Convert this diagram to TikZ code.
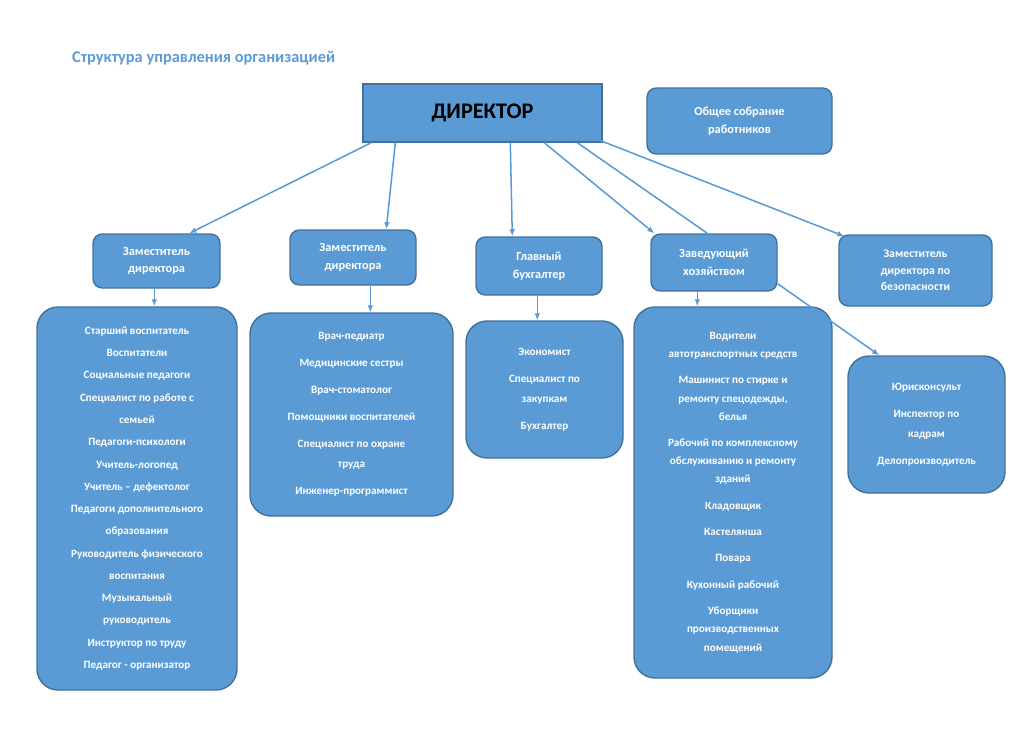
\documentclass[tikz,border=0pt]{standalone}
\usepackage{fontspec}
\setmainfont{Carlito}
\usetikzlibrary{calc, arrows.meta}
\definecolor{boxfill}{RGB}{91,155,213}
\definecolor{boxline}{RGB}{65,113,156}
\definecolor{titleblue}{RGB}{91,155,213}
\begin{document}
\begin{tikzpicture}[
    x=0.03cm, y=-0.03cm,
    box/.style={
        draw=boxline, fill=boxfill, line width=1.2pt, rounded corners=8pt,
        text=white, font=\bfseries\fontsize{10.5}{15}\selectfont, align=center, inner sep=2pt
    },
    head/.style={
        box, draw=boxline, rounded corners=0pt, text=black, font=\bfseries\fontsize{19}{22}\selectfont
    },
    list/.style={
        box, rounded corners=18pt, font=\bfseries\fontsize{9.5}{18}\selectfont
    },
    link/.style={
        draw=boxfill, line width=1.3pt, -{Latex[length=6pt,width=5pt]}
    },
    plain/.style={
        draw=boxfill, line width=1.3pt
    }
]
    \useasboundingbox (0,0) rectangle (1024,731);

    \node[anchor=west, text=titleblue, font=\bfseries\fontsize{14}{16}\selectfont] (title) at (68,58) {Структура управления организацией};

    \node[head, minimum width=239*0.03cm, minimum height=58*0.03cm] (dir) at (482.5,113) {ДИРЕКТОР};
    \node[box, minimum width=185*0.03cm, minimum height=66*0.03cm] (meet) at (739.5,121) {Общее собрание\\работников};

    \node[box, minimum width=127*0.03cm, minimum height=54*0.03cm] (dep1) at (156.5,261) {Заместитель\\директора};
    \node[box, minimum width=126*0.03cm, minimum height=55*0.03cm] (dep2) at (353,257.5) {Заместитель\\директора};
    \node[box, minimum width=126*0.03cm, minimum height=58*0.03cm] (acc) at (539,266) {Главный\\бухгалтер};
    \node[box, minimum width=126*0.03cm, minimum height=57*0.03cm] (mgr) at (714,262.5) {Заведующий\\хозяйством};
    \node[box, minimum width=153*0.03cm, minimum height=71*0.03cm, font=\bfseries\fontsize{10}{14}\selectfont] (sec) at (915.5,270.5) {Заместитель\\директора по\\безопасности};

    \node[list, minimum width=200*0.03cm, minimum height=383*0.03cm, font=\bfseries\fontsize{9.5}{19}\selectfont] (lst1) at (137,498.5) {%
        Старший воспитатель\\Воспитатели\\Социальные педагоги\\Специалист по работе с\\семьей\\Педагоги-психологи\\Учитель-логопед\\Учитель – дефектолог\\Педагоги дополнительного\\образования\\Руководитель физического\\воспитания\\Музыкальный\\руководитель\\Инструктор по труду\\Педагог - организатор};
    \node[list, minimum width=203*0.03cm, minimum height=203*0.03cm, font=\bfseries\fontsize{9.5}{17}\selectfont] (lst2) at (351.5,414.5) {%
        Врач-педиатр\\[6pt]Медицинские сестры\\[6pt]Врач-стоматолог\\[6pt]Помощники воспитателей\\[6pt]Специалист по охране\\труда\\[6pt]Инженер-программист};
    \node[list, minimum width=157*0.03cm, minimum height=137*0.03cm, font=\bfseries\fontsize{9.5}{17}\selectfont] (lst3) at (544.5,389.5) {%
        Экономист\\[6pt]Специалист по\\закупкам\\[6pt]Бухгалтер};
    \node[list, minimum width=198*0.03cm, minimum height=371*0.03cm, font=\bfseries\fontsize{9.5}{15.5}\selectfont] (lst4) at (733,492.5) {%
        Водители\\автотранспортных средств\\[7pt]Машинист по стирке и\\ремонту спецодежды,\\белья\\[7pt]Рабочий по комплексному\\обслуживанию и ремонту\\зданий\\[7pt]Кладовщик\\[7pt]Кастелянша\\[7pt]Повара\\[7pt]Кухонный рабочий\\[7pt]Уборщики\\производственных\\помещений};
    \node[list, minimum width=157*0.03cm, minimum height=137*0.03cm, font=\bfseries\fontsize{9.5}{17}\selectfont] (lst5) at (926.5,424.5) {%
        Юрисконсульт\\[6pt]Инспектор по\\кадрам\\[6pt]Делопроизводитель};

    \draw[link] ($(dir.south west)+(9,0)$) to ($(dep1.north west)+(97,0)$);
    \draw[link] ($(dir.south west)+(33,0)$) to ($(dep2.north west)+(97,0)$);
    \draw[link] ($(dir.south west)+(148,0)$) to ($(acc.north west)+(37,0)$);
    \draw[link] ($(dir.south west)+(182,0)$) to ($(mgr.north west)+(4,0)$);
    \draw[plain] ($(dir.south west)+(215,0)$) to ($(mgr.north west)+(57,0)$);
    \draw[link] ($(dir.south east)+(-2,-2)$) to ($(sec.north west)+(6,2)$);

    \draw[link] ($(dep1.south west)+(62,0)$) to ($(lst1.north west)+(118,0)$);
    \draw[link] ($(dep2.south west)+(81,0)$) to ($(lst2.north west)+(121,0)$);
    \draw[link] ($(acc.south west)+(62,0)$) to ($(lst3.north west)+(72,0)$);
    \draw[link] ($(mgr.south west)+(47,0)$) to ($(lst4.north west)+(64,0)$);
    \draw[link] ($(mgr.south east)+(0,-8)$) to ($(lst5.north west)+(32,0)$);
\end{tikzpicture}
\end{document}
